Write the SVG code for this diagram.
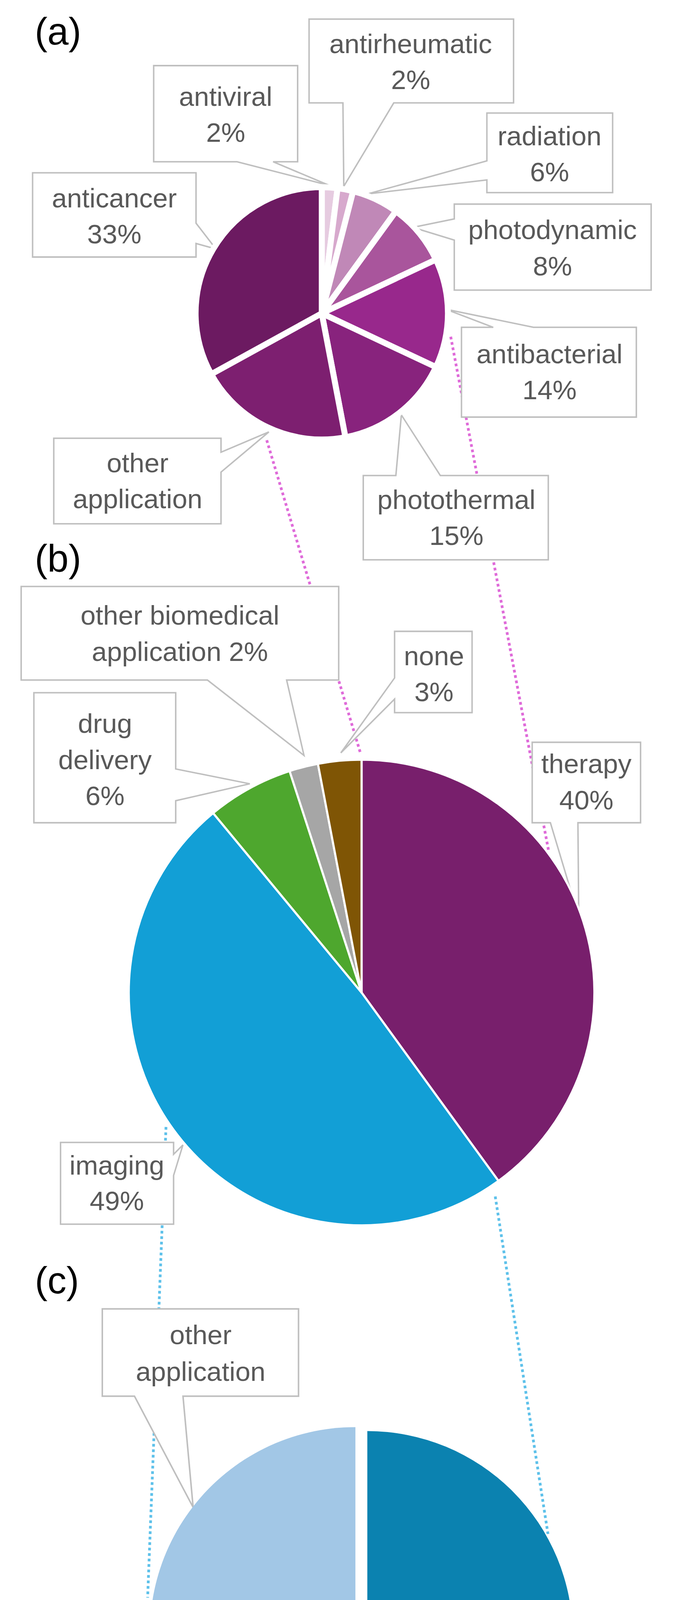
<svg xmlns="http://www.w3.org/2000/svg" width="1782" height="5070" viewBox="0 0 1782 5070">
<style>
.t{font-family:"Liberation Sans",Arial,sans-serif;fill:#595959;text-anchor:middle}
.p{font-family:"Liberation Sans",Arial,sans-serif;fill:#000}
.co{fill:#fff;stroke:#bfbfbf;stroke-width:3.5;stroke-linejoin:miter}
.pk{stroke:#df6bd9;stroke-width:7;stroke-dasharray:7 7;fill:none}
.bl{stroke:#5ec1ea;stroke-width:7;stroke-dasharray:7 7;fill:none}
</style>
<rect width="1782" height="5070" fill="#fff"/>
<g id="connectors">
<line class="pk" x1="683" y1="1127" x2="922" y2="1925"/>
<line class="pk" x1="1154" y1="862" x2="1405" y2="2180"/>
<line class="bl" x1="425" y1="2885" x2="378" y2="4090"/>
<line class="bl" x1="1268" y1="3063" x2="1403" y2="3927"/>
</g>
<g id="panelA" transform="scale(1.084)">
<text class="p" x="82" y="105" font-size="90">(a)</text>
<text class="p" x="82" y="1350" font-size="90">(b)</text>
<g id="lbl-antiviral"><polygon class="co" points="363,155 703,155 703,382 645,382 778,438 560,382 363,382"/></g>
<g id="lbl-antirheumatic"><polygon class="co" points="730,45 1213,45 1213,243 930,243 812,440 810,243 730,243"/></g>
<g id="lbl-radiation"><polygon class="co" points="1150,267 1447,267 1447,455 1150,455 1150,425 868,458 1150,380"/></g>
<g id="lbl-photodynamic"><polygon class="co" points="1073,482 1538,482 1538,685 1073,685 1073,567 975,537 1073,517"/></g>
<g id="lbl-antibacterial"><polygon class="co" points="1090,773 1165,773 1052,730 1260,773 1503,773 1503,985 1090,985"/></g>
<g id="lbl-photothermal"><polygon class="co" points="858,1123 935,1123 948,980 1040,1123 1295,1123 1295,1322 858,1322"/></g>
<g id="lbl-otherA"><polygon class="co" points="127,1035 522,1035 522,1068 635,1020 522,1115 522,1237 127,1237"/></g>
<g id="lbl-anticancer"><polygon class="co" points="77,408 463,408 463,527 510,588 463,575 463,607 77,607"/></g>
<g id="pieA" stroke="#fff" stroke-width="14" stroke-linejoin="round">
<path fill="#e6cbe0" d="M760,740 L760,442 A298,298 0 0 1 797.3,444.4 Z"/>
<path fill="#d7a9cd" d="M760,740 L797.3,444.4 A298,298 0 0 1 834.1,451.4 Z"/>
<path fill="#c088b7" d="M760,740 L834.1,451.4 A298,298 0 0 1 935.2,498.9 Z"/>
<path fill="#a9559c" d="M760,740 L935.2,498.9 A298,298 0 0 1 1029.6,613.1 Z"/>
<path fill="#98288c" d="M760,740 L1029.6,613.1 A298,298 0 0 1 1029.6,866.9 Z"/>
<path fill="#88237d" d="M760,740 L1029.6,866.9 A298,298 0 0 1 815.8,1032.7 Z"/>
<path fill="#7d1f70" d="M760,740 L815.8,1032.7 A298,298 0 0 1 498.9,883.6 Z"/>
<path fill="#6c1a61" d="M760,740 L498.9,883.6 A298,298 0 0 1 760,442 Z"/>
</g>
<g font-size="64">
<text class="t" x="533" y="250">antiviral</text><text class="t" x="533" y="335">2%</text>
<text class="t" x="970" y="125">antirheumatic</text><text class="t" x="970" y="210">2%</text>
<text class="t" x="1298" y="343">radiation</text><text class="t" x="1298" y="428">6%</text>
<text class="t" x="1305" y="565">photodynamic</text><text class="t" x="1305" y="650">8%</text>
<text class="t" x="1298" y="858">antibacterial</text><text class="t" x="1298" y="943">14%</text>
<text class="t" x="1078" y="1202">photothermal</text><text class="t" x="1078" y="1287">15%</text>
<text class="t" x="325" y="1115">other</text><text class="t" x="325" y="1200">application</text>
<text class="t" x="270" y="490">anticancer</text><text class="t" x="270" y="575">33%</text>
</g>
</g>
<g id="panelB" transform="translate(0,1600) scale(1.084)">
<g id="lbl-otherbio"><polygon class="co" points="50,-91 800,-91 800,130 677,130 718,308 490,130 50,130"/></g>
<g id="lbl-none"><polygon class="co" points="932,15 1115,15 1115,207 932,207 932,175 805,302 932,125"/></g>
<g id="lbl-drug"><polygon class="co" points="80,160 415,160 415,340 590,375 415,415 415,467 80,467"/></g>
<g id="lbl-therapy"><polygon class="co" points="1257,277 1513,277 1513,467 1365,467 1367,690 1300,467 1257,467"/></g>
<g id="lbl-imaging"><polygon class="co" points="143,1222 410,1222 410,1250 432,1228 410,1300 410,1415 143,1415"/></g>
<g id="pieB" stroke="#fff" stroke-width="5" stroke-linejoin="round">
<path fill="#781f6c" d="M854,868 L854,318 A550,550 0 0 1 1177.3,1312.9 Z"/>
<path fill="#129fd6" d="M854,868 L1177.3,1312.9 A550,550 0 0 1 503.4,444.2 Z"/>
<path fill="#4ea72e" d="M854,868 L503.4,444.2 A550,550 0 0 1 684,344.9 Z"/>
<path fill="#a6a6a6" d="M854,868 L684,344.9 A550,550 0 0 1 750.9,327.7 Z"/>
<path fill="#7f5505" d="M854,868 L750.9,327.7 A550,550 0 0 1 854,318 Z"/>
</g>
<g font-size="64">
<text class="t" x="425" y="-1">other biomedical</text><text class="t" x="425" y="85">application 2%</text>
<text class="t" x="1025" y="95">none</text><text class="t" x="1025" y="180">3%</text>
<text class="t" x="1385" y="350">therapy</text><text class="t" x="1385" y="435">40%</text>
<text class="t" x="248" y="255">drug</text><text class="t" x="248" y="340">delivery</text><text class="t" x="248" y="425">6%</text>
<text class="t" x="276" y="1298">imaging</text><text class="t" x="276" y="1382">49%</text>
</g>
</g>
<g id="panelC" transform="translate(0,3300) scale(1.129)">
<text class="p" x="79" y="10" font-size="86">(c)</text>
<g id="lbl-otherC"><polygon class="co" points="232,45 677,45 677,243 415,243 438,495 305,243 232,243"/></g>
<g id="lbl-sensing"><polygon class="co" points="172,1208 430,1208 430,1240 535,1175 430,1283 430,1393 172,1393"/></g>
<g id="lbl-detection"><polygon class="co" points="1062,1277 1133,1277 1148,1102 1237,1277 1480,1277 1480,1543 1062,1543"/></g>
<g id="pieC">
<path fill="#0b82b0" transform="translate(15,0)" d="M818,788 L818,322 A466,466 0 0 1 818,1254 Z"/>
<path fill="#129fd6" transform="translate(-9,12)" d="M818,788 L818,1254 A466,466 0 0 1 366.6,903.9 Z"/>
<path fill="#a2c7e6" transform="translate(-12,-9)" d="M818,788 L366.6,903.9 A466,466 0 0 1 818,322 Z"/>
</g>
<g font-size="61.5">
<text class="t" x="455" y="125">other</text><text class="t" x="455" y="208">application</text>
<text class="t" x="302" y="1283">sensing</text><text class="t" x="302" y="1365">21%</text>
<text class="t" x="1272" y="1393">detection</text><text class="t" x="1272" y="1475">50%</text>
</g>
</g>
</svg>
